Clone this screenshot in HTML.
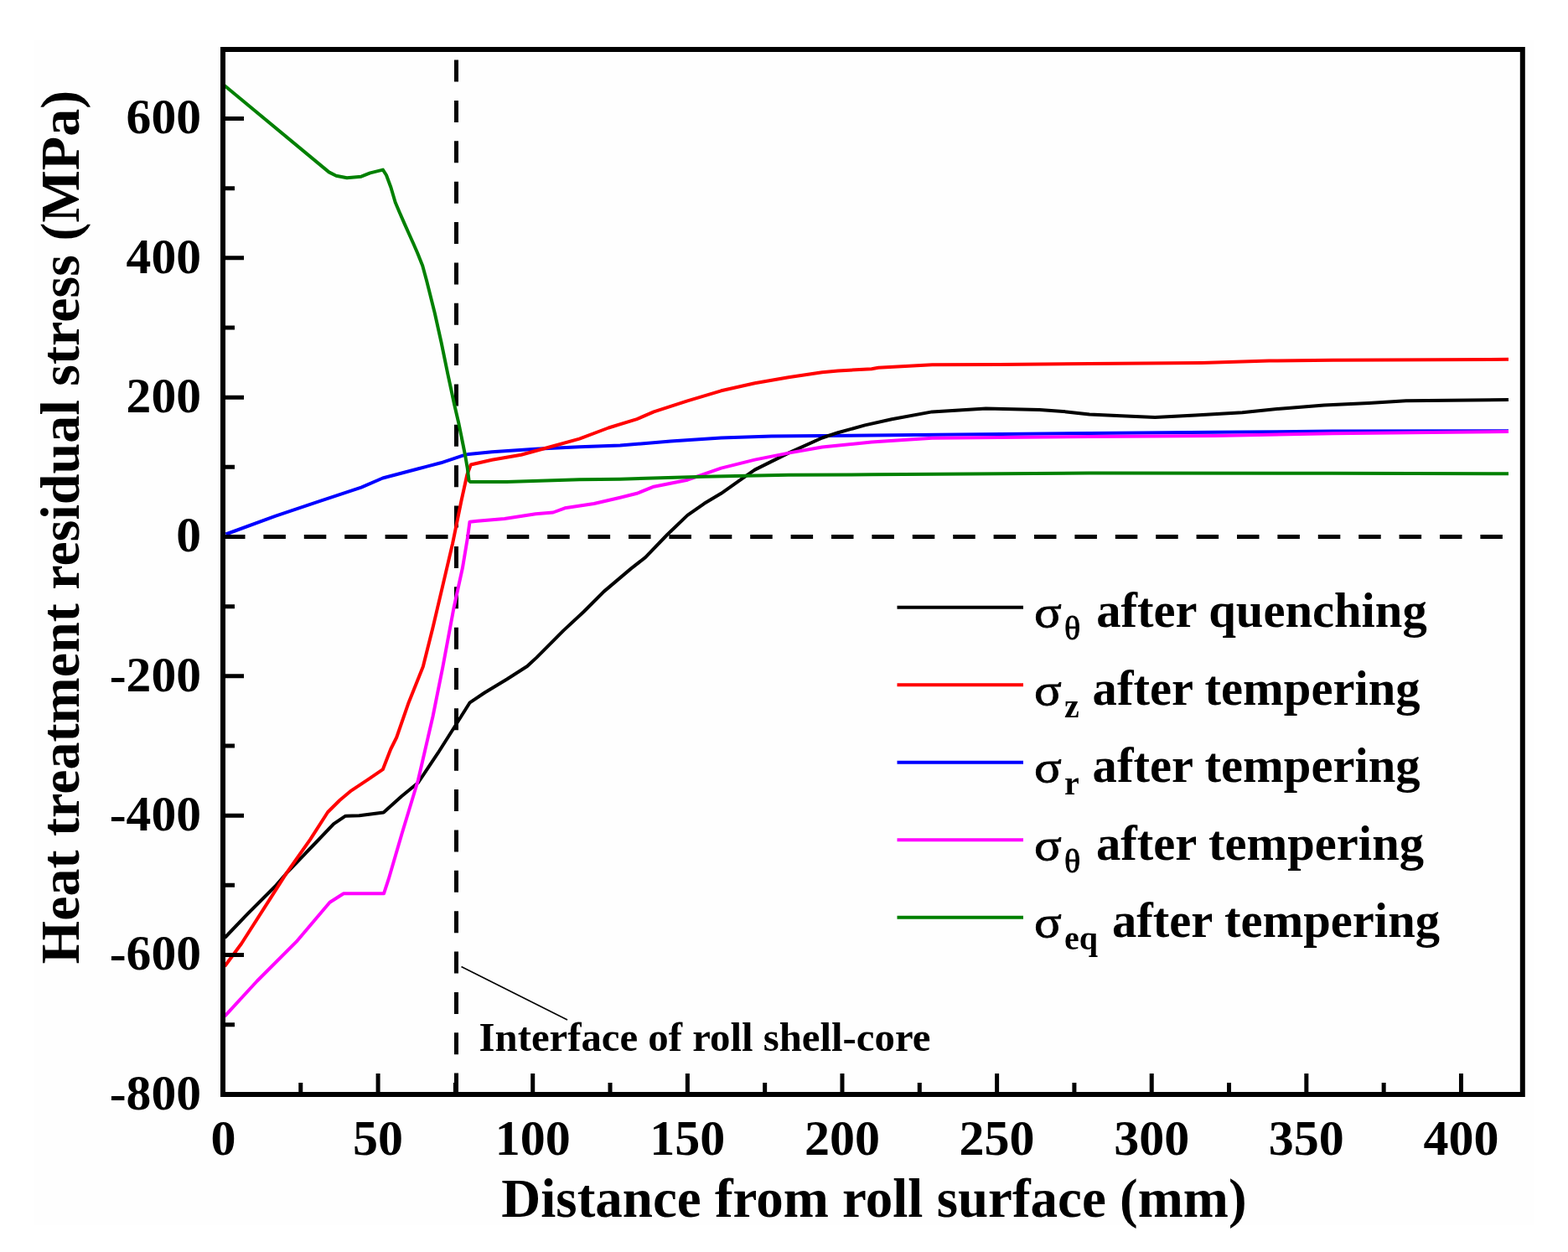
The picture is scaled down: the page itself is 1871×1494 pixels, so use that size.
<!DOCTYPE html><html><head><meta charset="utf-8"><style>
html,body{margin:0;padding:0;background:#fff;}
body{width:1871px;height:1494px;overflow:hidden;}
svg{display:block;}
text{font-family:"Liberation Serif","Times New Roman",serif;font-weight:bold;fill:#000;}
.r{font-weight:normal;stroke:#000;stroke-width:0.8;}
</style></head><body>
<svg width="1871" height="1494" viewBox="0 0 1871 1494">
<rect x="40" y="48" width="1791" height="1414" fill="#fefefe"/>
<line x1="266.0" y1="640.5" x2="1800" y2="640.5" stroke="#000" stroke-width="5" stroke-dasharray="26.5 21.9"/>
<line x1="544.5" y1="1306.6" x2="544.5" y2="59.0" stroke="#000" stroke-width="5" stroke-dasharray="26 22.36"/>
<polyline points="269.5,637.5 328.4,615.8 379.7,598.7 431.0,581.6 456.7,570.5 499.4,559.3 526.1,552.3 552.2,543.6 559.2,541.9 587.0,539.2 639.2,535.8 691.4,533.2 740.0,531.5 800.2,526.5 860.5,522.5 920.7,520.5 981.0,520.1 1040.0,519.5 1300.0,517.0 1450.3,515.8 1590.0,514.6 1800.0,514.3" fill="none" stroke="#0000ff" stroke-width="4.0" stroke-linejoin="round" stroke-linecap="butt"/>
<polyline points="268.2,1119.0 295.1,1090.9 328.0,1058.0 344.3,1039.3 372.5,1010.0 398.2,983.1 412.3,973.7 428.7,973.3 457.7,969.4 479.1,950.3 498.9,934.0 522.5,898.7 543.1,866.3 560.7,838.3 578.4,826.5 604.9,810.5 629.1,795.0 640.3,784.6 672.4,752.4 696.5,730.0 720.6,705.9 752.8,678.6 770.1,665.1 796.2,638.0 820.3,614.9 840.4,600.8 860.5,588.8 880.6,574.7 900.6,560.6 940.8,540.6 981.0,522.5 1000.0,516.2 1032.1,507.4 1064.1,500.2 1112.2,491.4 1176.4,487.4 1240.5,489.0 1272.6,491.4 1300.0,494.5 1338.1,496.2 1378.2,498.1 1426.3,495.4 1482.4,492.2 1530.5,487.4 1580.0,483.6 1633.5,481.0 1677.7,478.3 1800.0,477.0" fill="none" stroke="#000000" stroke-width="4.0" stroke-linejoin="round" stroke-linecap="butt"/>
<polyline points="268.2,1153.0 288.1,1126.0 325.6,1067.4 342.0,1041.7 370.1,1001.8 391.2,969.0 405.3,955.0 419.3,943.3 440.0,929.6 456.8,918.2 466.2,894.0 473.2,880.0 487.1,839.8 504.8,795.6 516.6,748.5 528.4,698.4 540.1,648.4 550.5,597.5 557.4,566.2 561.8,554.5 587.0,548.8 621.8,542.7 656.6,533.2 691.4,523.6 726.2,510.5 760.0,500.1 780.2,491.4 820.3,478.3 860.5,466.3 900.6,457.2 940.8,450.2 981.0,444.2 1000.0,442.5 1040.0,440.2 1048.1,438.8 1112.2,435.3 1192.4,435.0 1300.0,434.0 1434.3,432.9 1514.5,430.5 1590.0,429.7 1800.0,428.8" fill="none" stroke="#ff0000" stroke-width="4.0" stroke-linejoin="round" stroke-linecap="butt"/>
<polyline points="268.2,1212.7 306.9,1170.5 353.7,1123.7 393.5,1076.8 410.0,1066.3 458.0,1066.3 463.8,1048.7 479.5,995.0 498.9,931.0 516.6,854.5 528.4,795.6 541.6,724.9 551.9,677.8 557.8,642.5 560.5,622.8 569.6,621.8 602.0,618.9 639.2,613.2 660.0,611.5 674.0,606.3 708.8,601.0 740.0,593.8 760.0,588.8 780.2,580.7 820.3,572.7 860.5,558.6 900.6,548.6 940.8,540.6 981.0,533.5 1040.0,527.5 1112.2,522.7 1300.0,521.0 1450.3,519.9 1590.0,517.3 1800.0,515.0" fill="none" stroke="#ff00ff" stroke-width="4.0" stroke-linejoin="round" stroke-linecap="butt"/>
<polyline points="267.5,101.7 392.5,205.4 401.1,209.7 413.9,212.2 431.0,210.7 441.7,206.4 456.9,202.6 461.0,209.0 466.4,223.5 471.7,241.5 477.1,254.2 482.4,266.4 487.8,278.5 493.2,290.5 498.0,301.5 504.2,317.0 509.1,335.0 518.8,373.8 526.6,408.7 534.4,446.6 542.1,482.5 547.5,505.8 551.8,527.0 555.0,543.0 557.7,558.3 559.6,573.5 561.0,575.0 604.4,575.0 691.4,572.3 740.0,571.7 840.4,568.7 940.8,566.7 1040.0,566.3 1300.0,564.5 1590.0,564.8 1800.0,565.2" fill="none" stroke="#008000" stroke-width="4.0" stroke-linejoin="round" stroke-linecap="butt"/>
<line x1="550.5" y1="1153.5" x2="677" y2="1217" stroke="#000" stroke-width="1.6"/>
<rect x="266.0" y="59.0" width="1550.8" height="1247.0" fill="none" stroke="#000" stroke-width="6.0"/>
<path d="M358.78,1306.0 V1292.00 M451.10,1306.0 V1281.00 M543.41,1306.0 V1292.00 M635.72,1306.0 V1281.00 M728.03,1306.0 V1292.00 M820.35,1306.0 V1281.00 M912.66,1306.0 V1292.00 M1004.97,1306.0 V1281.00 M1097.28,1306.0 V1292.00 M1189.60,1306.0 V1281.00 M1281.91,1306.0 V1292.00 M1374.22,1306.0 V1281.00 M1466.53,1306.0 V1292.00 M1558.85,1306.0 V1281.00 M1651.16,1306.0 V1292.00 M1743.47,1306.0 V1281.00 M266.0,1222.69 H280.00 M266.0,1139.52 H291.00 M266.0,1056.35 H280.00 M266.0,973.18 H291.00 M266.0,890.01 H280.00 M266.0,806.84 H291.00 M266.0,723.67 H280.00 M266.0,640.50 H291.00 M266.0,557.33 H280.00 M266.0,474.16 H291.00 M266.0,390.99 H280.00 M266.0,307.82 H291.00 M266.0,224.65 H280.00 M266.0,141.48 H291.00" stroke="#000" stroke-width="5" fill="none"/>
<text x="240" y="1323.7" font-size="59.6" text-anchor="end">-800</text>
<text x="240" y="1157.3" font-size="59.6" text-anchor="end">-600</text>
<text x="240" y="991.0" font-size="59.6" text-anchor="end">-400</text>
<text x="240" y="824.6" font-size="59.6" text-anchor="end">-200</text>
<text x="240" y="658.3" font-size="59.6" text-anchor="end">0</text>
<text x="240" y="492.0" font-size="59.6" text-anchor="end">200</text>
<text x="240" y="325.6" font-size="59.6" text-anchor="end">400</text>
<text x="240" y="159.3" font-size="59.6" text-anchor="end">600</text>
<text x="266.5" y="1378.3" font-size="60" text-anchor="middle">0</text>
<text x="451.1" y="1378.3" font-size="60" text-anchor="middle">50</text>
<text x="635.7" y="1378.3" font-size="60" text-anchor="middle">100</text>
<text x="820.3" y="1378.3" font-size="60" text-anchor="middle">150</text>
<text x="1005.0" y="1378.3" font-size="60" text-anchor="middle">200</text>
<text x="1189.6" y="1378.3" font-size="60" text-anchor="middle">250</text>
<text x="1374.2" y="1378.3" font-size="60" text-anchor="middle">300</text>
<text x="1558.8" y="1378.3" font-size="60" text-anchor="middle">350</text>
<text x="1743.5" y="1378.3" font-size="60" text-anchor="middle">400</text>
<text x="1043" y="1451.5" font-size="65" text-anchor="middle">Distance from roll surface (mm)</text>
<text transform="translate(93.5,629) rotate(-90)" x="0" y="0" font-size="66.1" text-anchor="middle">Heat treatment residual stress (MPa)</text>
<text x="571.5" y="1253.6" font-size="48.8">Interface of roll shell-core</text>
<line x1="1070.5" y1="724.8" x2="1221" y2="724.8" stroke="#000000" stroke-width="4.0"/>
<text class="r" transform="translate(1234,748.0) scale(1.15,1)" font-size="53">σ</text>
<text class="r" x="1270" y="763.0" font-size="40">θ</text>
<text x="1308.3" y="748.0" font-size="58.6">after quenching</text>
<line x1="1070.5" y1="817.3" x2="1221" y2="817.3" stroke="#ff0000" stroke-width="4.0"/>
<text class="r" transform="translate(1234,840.5) scale(1.15,1)" font-size="53">σ</text>
<text x="1270" y="855.5" font-size="40">z</text>
<text x="1303.6" y="840.5" font-size="58.6">after tempering</text>
<line x1="1070.5" y1="909.8" x2="1221" y2="909.8" stroke="#0000ff" stroke-width="4.0"/>
<text class="r" transform="translate(1234,933.0) scale(1.15,1)" font-size="53">σ</text>
<text x="1270" y="948.0" font-size="40">r</text>
<text x="1303.6" y="933.0" font-size="58.6">after tempering</text>
<line x1="1070.5" y1="1002.3" x2="1221" y2="1002.3" stroke="#ff00ff" stroke-width="4.0"/>
<text class="r" transform="translate(1234,1025.5) scale(1.15,1)" font-size="53">σ</text>
<text class="r" x="1270" y="1040.5" font-size="40">θ</text>
<text x="1308.0" y="1025.5" font-size="58.6">after tempering</text>
<line x1="1070.5" y1="1094.8" x2="1221" y2="1094.8" stroke="#008000" stroke-width="4.0"/>
<text class="r" transform="translate(1234,1118.0) scale(1.15,1)" font-size="53">σ</text>
<text x="1270" y="1133.0" font-size="40">eq</text>
<text x="1327.0" y="1118.0" font-size="58.6">after tempering</text>
</svg></body></html>
